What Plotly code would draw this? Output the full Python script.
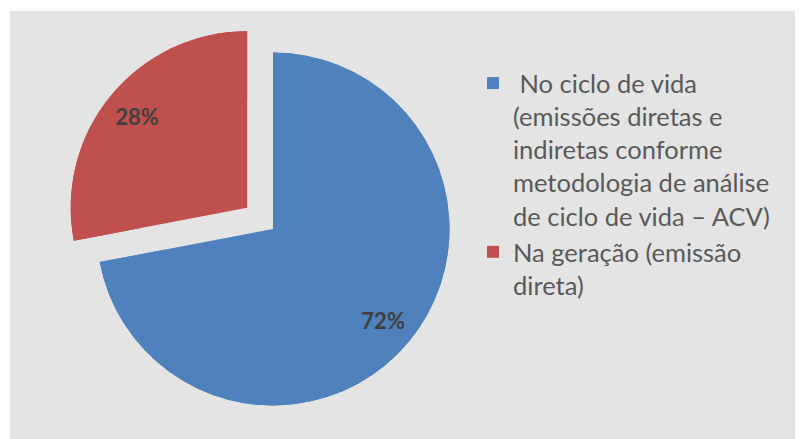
import plotly.graph_objects as go

labels = [
    "\u00a0No ciclo de vida<br>(emissões diretas e<br>indiretas conforme<br>metodologia de análise<br>de ciclo de vida – ACV)",
    "Na geração (emissão<br>direta)",
]
values = [72, 28]
colors = ["#4f81bd", "#c0504d"]
pulls = [0, 0.19]

# figure sits inside the page body's 8px margin
W, H = 795, 431
dom = dict(x=[55 / W, 475 / W], y=[0, 420 / H])

common = dict(
    labels=labels,
    values=values,
    sort=False,
    direction="clockwise",
    rotation=0,
    pull=pulls,
    marker=dict(colors=colors, line=dict(width=0)),
    domain=dom,
    hoverinfo="skip",
)

# full pie (fill)
base = go.Pie(**common, textinfo="none", showlegend=False)
# ring on top carrying the percentage labels near the rim
ring = go.Pie(
    **common,
    hole=0.62,
    textinfo="percent",
    texttemplate="%{percent:.0%}",
    textposition="inside",
    insidetextorientation="horizontal",
    insidetextfont=dict(family="Lato", size=22, color="#404040", weight="bold"),
    showlegend=True,
)

fig = go.Figure([base, ring])

fig.update_layout(
    width=W,
    height=H,
    margin=dict(l=0, r=0, t=0, b=0),
    paper_bgcolor="white",
    plot_bgcolor="white",
    font=dict(family="Lato", color="#595959"),
    showlegend=True,
    legend=dict(
        x=465 / W,
        xanchor="left",
        y=1 - 52 / H,
        yanchor="top",
        valign="top",
        font=dict(family="Lato", size=25.5, color="#595959"),
        bgcolor="rgba(0,0,0,0)",
        itemclick=False,
    ),
    shapes=[
        dict(
            type="rect",
            xref="paper",
            yref="paper",
            x0=2 / W,
            x1=1,
            y0=0,
            y1=1 - 3 / H,
            fillcolor="#e4e4e4",
            line=dict(width=0),
            layer="below",
        )
    ],
)

fig.write_html("out.html")
